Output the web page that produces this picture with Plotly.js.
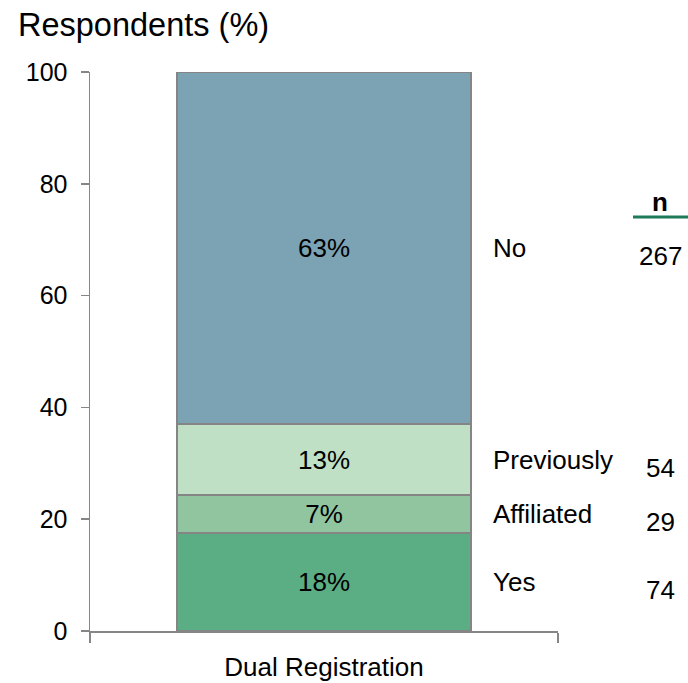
<!DOCTYPE html>
<html>
<head>
<meta charset="utf-8">
<script src="https://cdn.plot.ly/plotly-3.0.1.min.js"></script>
<style>html,body{margin:0;padding:0;background:#fff;}#chart{width:688px;height:683px;}</style>
</head>
<body>
<div id="chart"></div>
<script>
const category = ["Dual Registration"];
const segmentNames = ["Yes", "Affiliated", "Previously", "No"];
const segmentValues = [17.5, 6.8, 12.7, 63.0];
const segmentN = [74, 29, 54, 267];
const segmentColors = ["#5BAD84", "#90C59F", "#BFE0C4", "#7BA3B3"];
const yTicks = [0, 20, 40, 60, 80, 100];

const font = "Liberation Sans, Arial, sans-serif";

const traces = segmentNames.map((name, i) => ({
  type: "bar",
  name: name,
  x: category,
  y: [segmentValues[i]],
  width: 0.628,
  marker: {color: segmentColors[i], line: {color: "#858585", width: 1.5}},
  text: [Math.round(segmentValues[i]) + "%"],
  textposition: "inside",
  insidetextanchor: "middle",
  textangle: 0,
  constraintext: "none",
  textfont: {family: font, size: 26, color: "#000"},
  hoverinfo: "none",
  showlegend: false
}));

const annotations = [];
let cum = 0;
segmentValues.forEach((v, i) => {
  const mid = cum + v / 2;
  cum += v;
  annotations.push({
    xref: "paper", yref: "y", x: 0.857, y: mid, xanchor: "left", yanchor: "middle",
    text: segmentNames[i], showarrow: false, font: {family: font, size: 26, color: "#000"}
  });
  annotations.push({
    xref: "paper", yref: "y", x: 1.218, y: mid, yshift: -8, xanchor: "center", yanchor: "middle",
    text: String(segmentN[i]), showarrow: false, font: {family: font, size: 26, color: "#000"}
  });
});
annotations.push({
  xref: "paper", yref: "paper", x: 1.218, y: (631-202)/559, xanchor: "center", yanchor: "middle",
  text: "<b>n</b>", showarrow: false, font: {family: font, size: 26, color: "#000"}
});

const layout = {
  width: 688, height: 683,
  margin: {l: 90, r: 130, t: 72, b: 52},
  paper_bgcolor: "#fff", plot_bgcolor: "#fff",
  barmode: "stack",
  title: {text: "Respondents (%)", x: 18/688, xanchor: "left", xref: "container",
          y: 1 - 25/683, yanchor: "middle", yref: "container",
          font: {family: font, size: 32.5, color: "#000"}},
  xaxis: {
    type: "category", range: [-0.5, 0.5],
    showline: true, linecolor: "#868686", linewidth: 1.5,
    ticks: "outside", tickson: "boundaries", ticklen: 10, tickcolor: "#868686", tickwidth: 1.5,
    ticklabelstandoff: 12,
    tickfont: {family: font, size: 26, color: "#000"},
    showgrid: false, zeroline: false, fixedrange: true
  },
  yaxis: {
    range: [0, 100], tickvals: yTicks, ticktext: yTicks.map(String),
    showline: true, linecolor: "#868686", linewidth: 1.5,
    ticks: "outside", ticklen: 8, tickcolor: "#868686", tickwidth: 1.5,
    ticklabelstandoff: 8,
    tickfont: {family: font, size: 25, color: "#000"},
    showgrid: false, zeroline: false, fixedrange: true
  },
  shapes: [{
    type: "line", xref: "paper", yref: "paper",
    x0: (633-90)/468, x1: (688-90)/468, y0: (631-217)/559, y1: (631-217)/559,
    line: {color: "#1E7B5A", width: 3}
  }],
  annotations: annotations
};

Plotly.newPlot("chart", traces, layout, {displayModeBar: false, staticPlot: true});
</script>
</body>
</html>
